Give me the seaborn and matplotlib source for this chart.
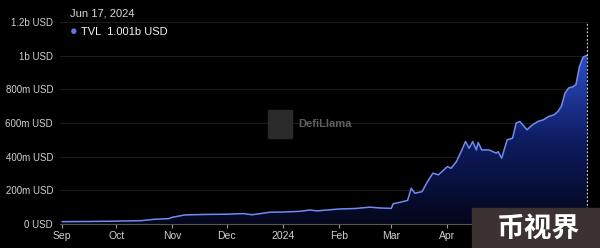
import numpy as np
import pandas as pd
import matplotlib
matplotlib.use("Agg")
import matplotlib.pyplot as plt
import matplotlib.dates as mdates
from matplotlib.colors import LinearSegmentedColormap
import seaborn as sns

# ---- data ----
dates = ["2023-09-01", "2023-09-15", "2023-10-01", "2023-10-15", "2023-10-22", "2023-10-30",
         "2023-11-01", "2023-11-08", "2023-11-20", "2023-12-01", "2023-12-10", "2023-12-15",
         "2023-12-25", "2024-01-01", "2024-01-10", "2024-01-16", "2024-01-20", "2024-02-01",
         "2024-02-10", "2024-02-18", "2024-02-24", "2024-03-01", "2024-03-02", "2024-03-05",
         "2024-03-10", "2024-03-12", "2024-03-14", "2024-03-18", "2024-03-21", "2024-03-24",
         "2024-03-27", "2024-04-01", "2024-04-03", "2024-04-06", "2024-04-09", "2024-04-11",
         "2024-04-13", "2024-04-15", "2024-04-17", "2024-04-18", "2024-04-20", "2024-04-24",
         "2024-04-28", "2024-04-29", "2024-05-01", "2024-05-04", "2024-05-07", "2024-05-09",
         "2024-05-11", "2024-05-15", "2024-05-18", "2024-05-21", "2024-05-24", "2024-05-27",
         "2024-05-30", "2024-06-01", "2024-06-03", "2024-06-05", "2024-06-07", "2024-06-09",
         "2024-06-11", "2024-06-13", "2024-06-15", "2024-06-17"]
tvl_musd = [14, 15, 17, 20, 28, 32,
            40, 54, 57, 58, 62, 55,
            70, 71, 75, 83, 78, 89,
            92, 100, 95, 93, 120, 127,
            140, 212, 183, 192, 252, 302,
            292, 341, 331, 371, 440, 490,
            450, 490, 440, 484, 440, 440,
            421, 430, 391, 500, 510, 600,
            609, 560, 589, 609, 619, 639,
            649, 668, 700, 778, 808, 814,
            827, 936, 992, 1001]
ytick_vals = [0, 200e6, 400e6, 600e6, 800e6, 1000e6, 1200e6]
ytick_labels = ["0 USD", "200m USD", "400m USD", "600m USD", "800m USD", "1b USD", "1.2b USD"]
xtick_dates = ["2023-09-01", "2023-10-01", "2023-11-01", "2023-12-01", "2024-01-01",
               "2024-02-01", "2024-03-01", "2024-04-01", "2024-05-01", "2024-06-01"]
xtick_labels = ["Sep", "Oct", "Nov", "Dec", "2024", "Feb", "Mar", "Apr", "", ""]

df = pd.DataFrame({"date": pd.to_datetime(dates), "tvl": np.array(tvl_musd) * 1e6})

# ---- figure ----
sns.set_theme(style="dark")
plt.rcParams["font.family"] = ["Liberation Sans", "DejaVu Sans"]
fig = plt.figure(figsize=(6, 2.48), dpi=100, facecolor="black")
ax = fig.add_axes([60 / 600, 24 / 248, 528 / 600, 202 / 248])
ax.set_facecolor("black")

line_color = "#6f8cf4"
sns.lineplot(data=df, x="date", y="tvl", ax=ax, color=line_color, linewidth=1.1, zorder=4)

start = pd.Timestamp("2023-09-01")
ax.set_xlim(mdates.date2num(start - pd.Timedelta(days=1.1)),
            mdates.date2num(start + pd.Timedelta(days=290.7)))
ax.set_ylim(0, 1.2e9)

# gradient fill under the curve
xnum = mdates.date2num(df["date"])
poly = ax.fill_between(xnum, df["tvl"], 0, color="none", zorder=2)
cmap = LinearSegmentedColormap.from_list("g", ["#04061a", "#0e1c62", "#2d4ec6"])
grad = np.linspace(0, 1, 256).reshape(-1, 1)
x0, x1 = ax.get_xlim()
im = ax.imshow(grad, cmap=cmap, aspect="auto", origin="lower",
               extent=[x0, x1, 0, 1.0e9], zorder=2, vmin=0, vmax=1)
im.set_clip_path(poly.get_paths()[0], transform=ax.transData)

# grid
for v in ytick_vals[1:]:
    ax.axhline(v, color="#1c1c1c", linewidth=0.8, zorder=1)
ax.grid(False)

# axes styling
ax.set_yticks(ytick_vals)
ax.set_yticklabels(ytick_labels)
ax.set_xticks([mdates.date2num(pd.Timestamp(d)) for d in xtick_dates])
ax.set_xticklabels(xtick_labels)
ax.tick_params(axis="y", length=0, pad=5, labelsize=7, labelcolor="#d0d0d0")
ax.tick_params(axis="x", length=3, width=0.8, color="#9a9a9a", pad=2,
               labelsize=7.5, labelcolor="#d0d0d0", direction="out", bottom=True)
ax.set_xlabel("")
ax.set_ylabel("")
for s in ["top", "right", "left"]:
    ax.spines[s].set_visible(False)
ax.spines["bottom"].set_color("#555555")
ax.spines["bottom"].set_linewidth(0.8)

# hover line at the last point
ax.axvline(xnum[-1], ymin=0, ymax=1, color="#cfcfcf", linewidth=0.9,
           linestyle=(0, (1.5, 1.5)), zorder=5)

# tooltip text
fig.text(70 / 600, 1 - 14 / 248, "Jun 17, 2024", color="#d8d8d8", fontsize=8, va="center")
fig.text(70 / 600, 1 - 32.5 / 248, "●", color="#5d79e6", fontsize=9, va="center")
fig.text(81 / 600, 1 - 32 / 248, "TVL  1.001b USD", color="#f2f2f2", fontsize=8, va="center")

# DefiLlama watermark
fig.patches.append(plt.Rectangle((268 / 600, 1 - 138 / 248), 24 / 600, 28 / 248,
                                 transform=fig.transFigure, color="#2a2a2a", zorder=3))
fig.text(298 / 600, 1 - 124 / 248, "DefiLlama", color="#5e5e5e", fontsize=8,
         va="center", ha="left", fontweight="bold")

# corner badge
fig.patches.append(plt.Rectangle((472 / 600, 0), 128 / 600, 40 / 248,
                                 transform=fig.transFigure, color="#3c3232", zorder=10))
fig.text(538 / 600, 19 / 248, "币视界", color="white", fontsize=20, fontweight="bold",
         ha="center", va="center", family=["Noto Sans CJK SC", "DejaVu Sans"], zorder=11)

fig.savefig("out.png", dpi=100, facecolor="black")
